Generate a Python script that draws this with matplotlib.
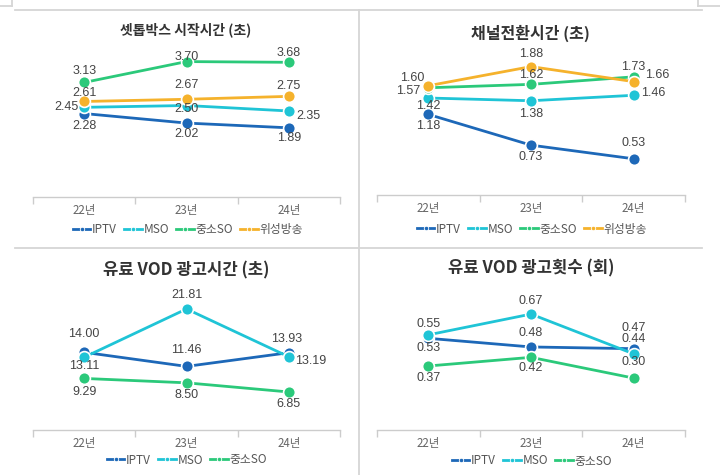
import matplotlib
matplotlib.use("Agg")
import matplotlib.pyplot as plt
from matplotlib.lines import Line2D

plt.rcParams['font.family'] = ['Noto Sans CJK KR', 'DejaVu Sans']

years = ["22년", "23년", "24년"]

# Panel 1: 셋톱박스 시작시간 (초)
stb_iptv = [2.28, 2.02, 1.89]
stb_mso = [2.45, 2.50, 2.35]
stb_so = [3.13, 3.70, 3.68]
stb_sat = [2.61, 2.67, 2.75]

# Panel 2: 채널전환시간 (초)
ch_iptv = [1.18, 0.73, 0.53]
ch_mso = [1.42, 1.38, 1.46]
ch_so = [1.57, 1.62, 1.73]
ch_sat = [1.60, 1.88, 1.66]

# Panel 3: 유료 VOD 광고시간 (초)
adt_iptv = [14.00, 11.46, 13.93]
adt_mso = [13.11, 21.81, 13.19]
adt_so = [9.29, 8.50, 6.85]

# Panel 4: 유료 VOD 광고횟수 (회)
adn_iptv = [0.53, 0.48, 0.47]
adn_mso = [0.55, 0.67, 0.44]
adn_so = [0.37, 0.42, 0.30]

names4 = ["IPTV", "MSO", "중소SO", "위성방송"]
names3 = ["IPTV", "MSO", "중소SO"]
colors = ["#1d68b8", "#1fc4d6", "#2bc97a", "#f5b22c"]

W, H = 720, 475
fig = plt.figure(figsize=(W / 100, H / 100), dpi=100)
fig.patch.set_facecolor("white")

# frame lines (pixel coords)
def fline(x0, y0, x1, y1):
    fig.add_artist(Line2D([x0 / W, x1 / W], [1 - y0 / H, 1 - y1 / H],
                          transform=fig.transFigure, color="#d6d6d6", lw=1.3))

fline(15, 10, 702, 10)
fline(15, 248, 702, 248)
fline(359, 10, 359, 475)
fline(12, 0, 12, 6)
fline(0, 6, 12, 6)
fline(698, 0, 698, 6)
fline(698, 6, 720, 6)

def panel(left_px, right_px, top_px, base_px, scale, title, title_xy, title_size,
          series, names, label_specs, legend_xy):
    ax = fig.add_axes([left_px / W, 1 - base_px / H, (right_px - left_px) / W,
                       (base_px - top_px) / H])
    ax.set_xlim(-0.5, 2.5)
    ax.set_ylim(0, (base_px - top_px) / scale)
    ax.patch.set_alpha(0)
    for s in ["top", "right", "left"]:
        ax.spines[s].set_visible(False)
    ax.spines["bottom"].set_color("#cccccc")
    ax.spines["bottom"].set_linewidth(1.0)
    ax.set_yticks([])
    ax.set_xticks([-0.5, 0.5, 1.5, 2.5])
    ax.set_xticklabels([])
    ax.tick_params(axis="x", which="major", length=5, color="#cccccc", width=1.0)
    ax.set_xticks([0, 1, 2], minor=True)
    ax.set_xticklabels(years, minor=True)
    ax.tick_params(axis="x", which="minor", length=0, pad=5, labelsize=8.3, labelcolor="#666666")
    x = [0, 1, 2]
    handles = []
    for vals, name, col, specs in zip(series, names, colors, label_specs):
        ax.plot(x, vals, color=col, lw=2, marker="o", markersize=8.5,
                markerfacecolor=col, markeredgecolor="white", markeredgewidth=1.2,
                clip_on=False, zorder=3)
        for xi, v, (dx, dy, ha) in zip(x, vals, specs):
            ax.annotate(f"{v:.2f}", (xi, v), xytext=(dx, dy), textcoords="offset pixels",
                        ha=ha, va="center", fontsize=9, color="#444444",
                        family=["Liberation Sans", "DejaVu Sans"], zorder=5)
        handles.append(Line2D([0], [0], color=col, lw=2, marker="o", markersize=3.2,
                              markerfacecolor=col, markeredgecolor="white",
                              markeredgewidth=0.6))
    fig.text(title_xy[0] / W, 1 - title_xy[1] / H, title, ha="center", va="center",
             fontsize=title_size, fontweight="bold", color="#333333")
    fig.legend(handles, names, loc="center", ncol=len(names), frameon=False,
               bbox_to_anchor=(legend_xy[0] / W, 1 - legend_xy[1] / H),
               bbox_transform=fig.transFigure, fontsize=8.5, handlelength=1.5,
               handletextpad=0.15, columnspacing=0.6, labelcolor="#555555")
    return ax

c, r, l = "center", "right", "left"

panel(33, 340, 50, 197, 36.6, "셋톱박스 시작시간 (초)", (186, 30), 10,
      [stb_iptv, stb_mso, stb_so, stb_sat], names4,
      [[(0, -12, c), (0, -11, c), (0, -10, c)],
       [(-6, 0, r), (0, -4, c), (7, -5, l)],
       [(0, 11, c), (0, 5, c), (0, 9, c)],
       [(0, 8, c), (0, 14, c), (0, 10, c)]],
      (188, 230))

panel(377, 685, 50, 195, 68.3, "채널전환시간 (초)", (530, 33), 11.5,
      [ch_iptv, ch_mso, ch_so, ch_sat], names4,
      [[(0, -12, c), (0, -12, c), (0, 16, c)],
       [(0, -8, c), (0, -13, c), (7, 2, l)],
       [(-8, -3, r), (0, 9, c), (0, 10, c)],
       [(-4, 8, r), (0, 13, c), (11, 7, l)]],
      (532, 229))

panel(33, 340, 285, 430, 5.55, "유료 VOD 광고시간 (초)", (186, 270), 12,
      [adt_iptv, adt_mso, adt_so], names3,
      [[(0, 18, c), (0, 16, c), (-2, 14, c)],
       [(0, -9, c), (0, 14, c), (6, -4, l)],
       [(0, -14, c), (0, -12, c), (0, -12, c)]],
      (187, 460))

panel(377, 685, 285, 430, 173, "유료 VOD 광고횟수 (회)", (531, 268), 12,
      [adn_iptv, adn_mso, adn_so], names3,
      [[(0, -10, c), (0, 14, c), (0, 21, c)],
       [(0, 11, c), (0, 13, c), (0, 15, c)],
       [(0, -12, c), (0, -11, c), (0, 16, c)]],
      (532, 461))

fig.savefig("out.png", dpi=100)
